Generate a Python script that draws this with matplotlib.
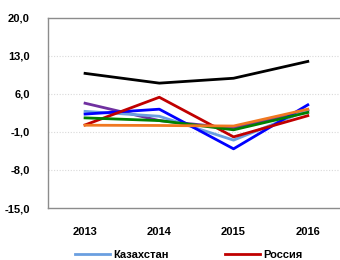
import numpy as np
import matplotlib
matplotlib.use("Agg")
from matplotlib import pyplot as plt

years = ["2013", "2014", "2015", "2016"]

kazakhstan = [2.8, 1.9, -2.5, 3.0]
russia = [0.3, 5.4, -1.9, 2.0]
blue_s = [2.3, 3.2, -4.1, 4.0]
purple_s = [4.3, 1.1, -0.3, 3.0]
green_s = [1.6, 1.1, -0.6, 2.6]
orange_s = [0.25, 0.2, 0.1, 3.2]
black_s = [9.8, 8.0, 8.9, 12.0]

yticks = [-15, -8, -1, 6, 13, 20]

plt.rcParams['font.family'] = ['Liberation Sans', 'DejaVu Sans']

fig = plt.figure(figsize=(3.4, 2.6), dpi=100)
ax = fig.add_axes([0.141, 0.2, 0.8735, 0.7308])

x = np.arange(len(years))
lw = 2.0
ax.plot(x, black_s, color="black", lw=lw)
ax.plot(x, purple_s, color="#7030A0", lw=lw)
l1, = ax.plot(x, kazakhstan, color="#6A9FE0", lw=lw, label="Казахстан")
ax.plot(x, blue_s, color="#0000FF", lw=lw)
l2, = ax.plot(x, russia, color="#C00000", lw=lw, label="Россия")
ax.plot(x, green_s, color="#008000", lw=lw)
ax.plot(x, orange_s, color="#F07820", lw=lw)

ax.set_xlim(-0.5, 3.5)
ax.set_ylim(-15, 20)
ax.set_yticks(yticks)
ax.set_yticklabels([f"{v:.1f}".replace(".", ",") for v in yticks],
                   fontsize=8, fontweight="bold")
ax.set_xticks(x)
ax.set_xticklabels(years, fontsize=8, fontweight="bold")
ax.tick_params(length=0)
ax.tick_params(axis="x", pad=14)
ax.tick_params(axis="y", pad=13)
for v in yticks[1:-1]:
    ax.axhline(v, color="#D9D9D9", lw=0.8, ls=(0, (1, 1.5)), zorder=0)
for s in ax.spines.values():
    s.set_color("#8C8C8C")
    s.set_linewidth(1.0)
ax.spines["right"].set_visible(False)

fig.legend(handles=[l1, l2], loc="center", bbox_to_anchor=(0.555, 0.018),
           ncol=2, frameon=False, handlelength=3.2, columnspacing=5.0,
           handletextpad=0.3, prop={"size": 8, "weight": "bold"})

fig.savefig("out.png", dpi=100)
